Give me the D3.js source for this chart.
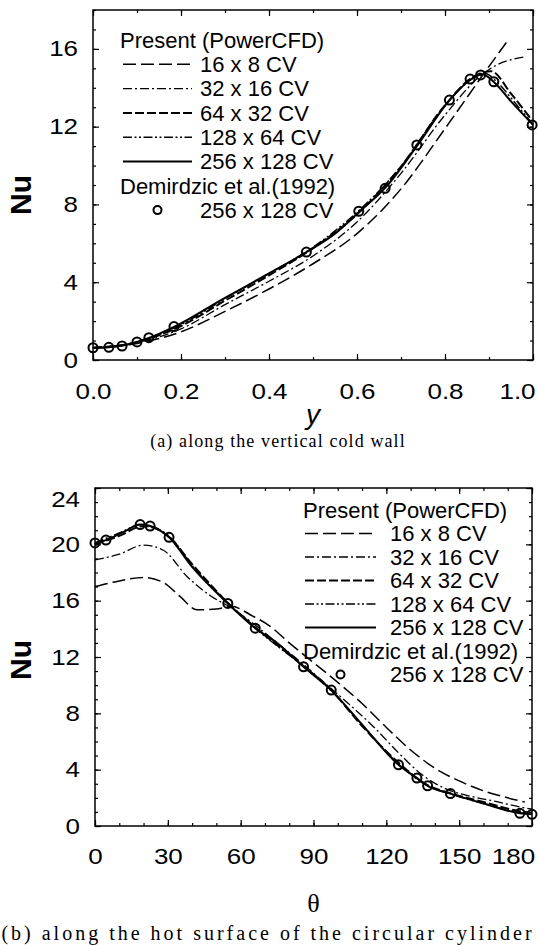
<!DOCTYPE html>
<html>
<head>
<meta charset="utf-8">
<script src="https://cdn.jsdelivr.net/npm/d3@7"></script>
<style>
  body { margin: 0; background: #fff; }
  svg { display: block; }
</style>
</head>
<body>
<div id="chart"></div>
<script>
// ---- (a) along the vertical cold wall : [y, Nu]
const wallTicksX = [0, 0.2, 0.4, 0.6, 0.8, 1.0];
const wallTicksY = [0, 4, 8, 12, 16];
const wall16x8 = [[0,0.6],[0.1,0.85],[0.2,1.45],[0.3,2.5],[0.4,3.65],[0.5,4.95],[0.6,6.5],[0.7,8.8],[0.8,11.9],[0.9,15.1],[0.945,16.5]];
const wall32x16 = [[0,0.62],[0.1,0.9],[0.2,1.6],[0.3,2.85],[0.4,4.05],[0.5,5.35],[0.6,7.1],[0.7,9.6],[0.8,12.6],[0.88,14.6],[0.92,15.2],[0.96,15.5],[0.985,15.6]];
const wall64x32 = [[0,0.63],[0.1,0.92],[0.2,1.75],[0.3,3.05],[0.4,4.35],[0.5,5.75],[0.6,7.5],[0.7,9.95],[0.8,13.1],[0.86,14.5],[0.905,14.85],[0.95,13.7],[0.995,12.4]];
const wall128x64 = [[0,0.63],[0.1,0.93],[0.2,1.82],[0.3,3.15],[0.4,4.45],[0.5,5.8],[0.6,7.6],[0.7,9.95],[0.8,13.1],[0.86,14.45],[0.89,14.75],[0.92,14.25],[0.96,13.2],[1.0,12.1]];
const wall256x128 = [[0,0.63],[0.036,0.66],[0.066,0.74],[0.1,0.93],[0.127,1.13],[0.184,1.7],[0.3,3.2],[0.4,4.45],[0.485,5.55],[0.55,6.5],[0.604,7.6],[0.664,8.85],[0.736,11.0],[0.81,13.35],[0.857,14.4],[0.885,14.7],[0.911,14.3],[0.95,13.3],[1.0,12.1]];
const wallDemirdzic = [[0,0.63],[0.036,0.65],[0.066,0.72],[0.1,0.93],[0.127,1.15],[0.184,1.72],[0.485,5.55],[0.604,7.65],[0.664,8.83],[0.736,11.06],[0.81,13.37],[0.857,14.45],[0.881,14.66],[0.911,14.31],[0.998,12.09]];

// ---- (b) along the hot surface of the circular cylinder : [theta, Nu]
const cylTicksX = [0, 30, 60, 90, 120, 150, 180];
const cylTicksY = [0, 4, 8, 12, 16, 20, 24];
const cyl16x8 = [[0,17.0],[10,17.4],[20,17.65],[28,17.3],[35,16.3],[42,15.35],[50,15.4],[56,15.6],[65,14.9],[72,14.2],[80,13.0],[90,11.6],[100,10.2],[110,8.7],[120,7.0],[130,5.4],[140,4.1],[150,3.2],[160,2.5],[170,2.0],[177,1.7]];
const cyl32x16 = [[0,18.9],[10,19.3],[20,19.95],[28,19.6],[38,17.7],[48,16.3],[56,15.5],[65,14.4],[75,13.0],[85,11.6],[95,10.1],[105,8.6],[115,7.0],[125,5.2],[135,3.6],[145,2.6],[155,2.1],[165,1.75],[175,1.35],[180,1.2]];
const cyl64x32 = [[0,20.0],[10,20.6],[20,21.3],[30,20.6],[40,18.6],[55,15.8],[66,14.1],[86,11.35],[97,9.7],[110,7.1],[125,4.5],[137,2.9],[146,2.35],[160,1.7],[175,1.05],[180,0.95]];
const cyl128x64 = [[0,20.1],[10,20.8],[19,21.4],[23,21.3],[31,20.5],[40,18.5],[55,15.8],[66,14.05],[86,11.3],[97,9.65],[110,7.2],[125,4.4],[137,2.85],[146,2.3],[160,1.6],[175,0.95],[180,0.85]];
const cyl256x128 = [[0,20.1],[4.5,20.3],[12,20.9],[18.6,21.4],[22.7,21.3],[30.5,20.5],[40,18.4],[54.7,15.8],[66,14.05],[75,13.0],[85.9,11.3],[97.3,9.65],[110,7.2],[125,4.35],[132.6,3.4],[137,2.85],[146.4,2.3],[160,1.6],[175,0.9],[180,0.83]];
const cylDemirdzic = [[0,20.1],[4.5,20.3],[18.6,21.4],[22.7,21.3],[30.5,20.5],[54.7,15.8],[66,14.05],[85.9,11.3],[97.3,9.65],[125,4.35],[132.6,3.4],[137,2.85],[146.4,2.3],[175,0.9],[180,0.83]];

const gridNames = ['16 x 8 CV', '32 x 16 CV', '64 x 32 CV', '128 x 64 CV', '256 x 128 CV'];
const presentTitle = 'Present (PowerCFD)';
const refTitle = 'Demirdzic et al.(1992)';
const refGrid = '256 x 128 CV';

// line looks per grid, same order as gridNames
const LOOKS = [
  { dash: '13,5', w: 1.5 },
  { dash: '9,3,2,3', w: 1.3 },
  { dash: '9,3', w: 2 },
  { dash: '9,2.5,2,2.5,2,2.5', w: 1.5 },
  { dash: null, w: 2 }
];
const SANS = "'Liberation Sans', Arial, sans-serif";
const SERIF = "'Liberation Serif', 'Times New Roman', serif";

const svg = d3.select('#chart').append('svg')
  .attr('width', 539).attr('height', 945)
  .style('background', '#fff');

function drawPanel(p) {
  const g = svg.append('g');
  const x = d3.scaleLinear().domain(p.xDomain).range([p.left, p.right]);
  const y = d3.scaleLinear().domain(p.yDomain).range([p.bottom, p.top]);

  const minorX = d3.range(p.xDomain[0], p.xDomain[1] + 1e-9, p.xMinor);
  const minorY = d3.range(p.yDomain[0], p.yDomain[1] + 1e-9, p.yMinor);

  const put = (axis, tr) => g.append('g')
    .attr('transform', tr)
    .call(axis)
    .call(s => s.select('.domain').remove())
    .call(s => s.selectAll('line').attr('stroke', '#000').attr('stroke-width', 1.2));

  // minor ticks, all four sides
  put(d3.axisBottom(x).tickValues(minorX).tickSize(-3).tickFormat(''), `translate(0,${p.bottom})`);
  put(d3.axisTop(x).tickValues(minorX).tickSize(-3).tickFormat(''), `translate(0,${p.top})`);
  put(d3.axisLeft(y).tickValues(minorY).tickSize(-3).tickFormat(''), `translate(${p.left},0)`);
  put(d3.axisRight(y).tickValues(minorY).tickSize(-3).tickFormat(''), `translate(${p.right},0)`);
  // major ticks
  put(d3.axisTop(x).tickValues(p.xTicks).tickSize(-6).tickFormat(''), `translate(0,${p.top})`);
  put(d3.axisRight(y).tickValues(p.yTicks).tickSize(-6).tickFormat(''), `translate(${p.right},0)`);

  const bx = put(d3.axisBottom(x).tickValues(p.xTicks).tickSize(-6).tickPadding(p.xPad).tickFormat(p.xFormat),
    `translate(0,${p.bottom})`);
  bx.attr('font-size', 22).attr('font-family', SANS);
  bx.selectAll('text').attr('fill', '#000')
    .attr('transform', d => `translate(${d === p.xDomain[1] ? p.lastShift : 0},0) scale(1.18,1)`);

  const ly = put(d3.axisLeft(y).tickValues(p.yTicks).tickSize(-6).tickPadding(15),
    `translate(${p.left},0)`);
  ly.attr('font-size', 22).attr('font-family', SANS);
  ly.selectAll('text').attr('fill', '#000')
    .attr('x', -15 / 1.18)
    .attr('transform', d => `translate(0,${d === p.yDomain[1] ? p.topShift : 0}) scale(1.18,1)`);

  // frame
  g.append('rect')
    .attr('x', p.left).attr('y', p.top)
    .attr('width', p.right - p.left).attr('height', p.bottom - p.top)
    .attr('fill', 'none').attr('stroke', '#000').attr('stroke-width', 1.5);

  // curves
  const line = d3.line().x(d => x(d[0])).y(d => y(d[1])).curve(d3.curveMonotoneX);
  p.series.forEach((s, i) => {
    g.append('path').datum(s)
      .attr('fill', 'none').attr('stroke', '#000')
      .attr('stroke-width', LOOKS[i].w)
      .attr('stroke-dasharray', LOOKS[i].dash)
      .attr('d', line);
  });
  g.selectAll('circle.ref').data(p.ref).join('circle')
    .attr('class', 'ref')
    .attr('cx', d => x(d[0])).attr('cy', d => y(d[1])).attr('r', 4.5)
    .attr('fill', 'none').attr('stroke', '#000').attr('stroke-width', 2);

  // legend
  const L = p.legend;
  const lg = g.append('g').attr('font-family', SANS).attr('font-size', 22).attr('fill', '#000');
  const rowY = i => L.y0 + i * L.dy;
  lg.append('text').attr('x', L.titleX).attr('y', rowY(0)).attr('dy', '0.35em').text(presentTitle);
  gridNames.forEach((name, i) => {
    lg.append('line')
      .attr('x1', L.lineX1).attr('x2', L.lineX2)
      .attr('y1', rowY(i + 1)).attr('y2', rowY(i + 1))
      .attr('stroke', '#000').attr('stroke-width', LOOKS[i].w)
      .attr('stroke-dasharray', LOOKS[i].dash);
    lg.append('text').attr('x', L.textX).attr('y', rowY(i + 1)).attr('dy', '0.35em').text(name);
  });
  lg.append('text').attr('x', L.titleX).attr('y', rowY(6)).attr('dy', '0.35em').text(refTitle);
  lg.append('circle')
    .attr('cx', (L.lineX1 + L.lineX2) / 2).attr('cy', rowY(7)).attr('r', 4)
    .attr('fill', 'none').attr('stroke', '#000').attr('stroke-width', 2);
  lg.append('text').attr('x', L.textX).attr('y', rowY(7)).attr('dy', '0.35em').text(refGrid);

  // axis titles
  svg.append('text')
    .attr('transform', `translate(${p.nuX},${p.nuY}) rotate(-90)`)
    .attr('text-anchor', 'middle').attr('dy', '0.35em')
    .attr('font-family', SANS).attr('font-weight', 'bold').attr('font-size', 30)
    .text('Nu');
  svg.append('text')
    .attr('x', (p.left + p.right) / 2).attr('y', p.xTitleY)
    .attr('text-anchor', 'middle')
    .attr('font-family', p.xTitleFont).attr('font-style', p.xTitleStyle)
    .attr('font-size', p.xTitleSize)
    .text(p.xTitle);
  svg.append('text')
    .attr('x', p.capX).attr('y', p.capY)
    .attr('text-anchor', 'middle')
    .attr('font-family', SERIF).attr('font-size', p.capSize)
    .attr('letter-spacing', p.capSpacing)
    .text(p.caption);
}

drawPanel({
  left: 93, right: 533, top: 10, bottom: 360,
  xDomain: [0, 1], yDomain: [0, 18],
  xTicks: wallTicksX, yTicks: wallTicksY, xMinor: 0.1, yMinor: 1,
  xFormat: d3.format('.1f'), xPad: 23, lastShift: -16, topShift: 0,
  series: [wall16x8, wall32x16, wall64x32, wall128x64, wall256x128],
  ref: wallDemirdzic,
  legend: { titleX: 120, y0: 40, dy: 24.3, lineX1: 123, lineX2: 192, textX: 200 },
  nuX: 20, nuY: 195,
  xTitle: 'y', xTitleY: 424, xTitleFont: SANS, xTitleStyle: 'italic', xTitleSize: 28,
  caption: '(a) along the vertical cold wall', capX: 278, capY: 447, capSize: 18, capSpacing: 1.1
});

drawPanel({
  left: 95, right: 532, top: 488, bottom: 826,
  xDomain: [0, 180], yDomain: [0, 24],
  xTicks: cylTicksX, yTicks: cylTicksY, xMinor: 10, yMinor: 1,
  xFormat: d3.format('d'), xPad: 22, lastShift: -19, topShift: 11,
  series: [cyl16x8, cyl32x16, cyl64x32, cyl128x64, cyl256x128],
  ref: cylDemirdzic,
  legend: { titleX: 303, y0: 510, dy: 23.5, lineX1: 305, lineX2: 376, textX: 390 },
  nuX: 20, nuY: 660,
  xTitle: 'θ', xTitleY: 912, xTitleFont: SERIF, xTitleStyle: 'normal', xTitleSize: 26,
  caption: '(b) along the hot surface of the circular cylinder', capX: 268, capY: 940, capSize: 20, capSpacing: 3
});
</script>
</body>
</html>
